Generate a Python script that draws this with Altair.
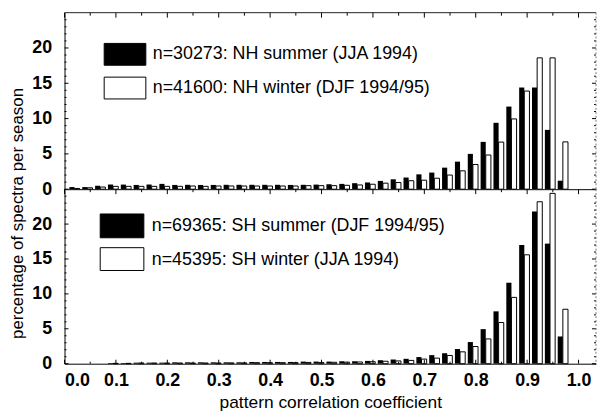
import altair as alt
import pandas as pd

# ---------------- data ----------------
bin_starts = [0.000, 0.025, 0.050, 0.075, 0.100, 0.125, 0.150, 0.175, 0.200, 0.225,
              0.250, 0.275, 0.300, 0.325, 0.350, 0.375, 0.400, 0.425, 0.450, 0.475,
              0.500, 0.525, 0.550, 0.575, 0.600, 0.625, 0.650, 0.675, 0.700, 0.725,
              0.750, 0.775, 0.800, 0.825, 0.850, 0.875, 0.900, 0.925, 0.950, 0.975]

nh_summer = [0.30, 0.30, 0.47, 0.66, 0.65, 0.60, 0.66, 0.75, 0.60, 0.62,
             0.60, 0.60, 0.62, 0.62, 0.62, 0.62, 0.62, 0.60, 0.62, 0.65,
             0.70, 0.75, 0.85, 0.95, 1.17, 1.40, 1.65, 2.10, 2.35, 3.05,
             3.90, 5.00, 6.70, 9.40, 11.70, 14.40, 14.40, 8.40, 1.20, 0.00]
nh_winter = [0.10, 0.20, 0.30, 0.40, 0.40, 0.40, 0.40, 0.40, 0.40, 0.45,
             0.40, 0.45, 0.45, 0.45, 0.45, 0.45, 0.45, 0.45, 0.50, 0.50,
             0.50, 0.55, 0.60, 0.70, 0.85, 0.94, 1.20, 1.27, 1.55, 2.00,
             2.60, 3.50, 4.84, 6.67, 9.95, 13.90, 18.60, 18.60, 6.70, 0.00]

sh_summer = [0.00, 0.00, 0.00, 0.10, 0.10, 0.15, 0.15, 0.15, 0.20, 0.20,
             0.20, 0.20, 0.20, 0.20, 0.25, 0.25, 0.25, 0.25, 0.30, 0.30,
             0.30, 0.35, 0.35, 0.40, 0.50, 0.60, 0.70, 0.95, 1.23, 1.50,
             2.10, 3.10, 4.95, 7.50, 11.60, 17.00, 21.80, 17.20, 3.90, 0.00]
sh_winter = [0.00, 0.00, 0.00, 0.05, 0.05, 0.10, 0.10, 0.10, 0.10, 0.10,
             0.10, 0.10, 0.12, 0.12, 0.15, 0.15, 0.15, 0.15, 0.18, 0.18,
             0.20, 0.22, 0.25, 0.28, 0.35, 0.40, 0.47, 0.66, 0.80, 1.18,
             1.70, 2.46, 3.55, 5.90, 9.50, 15.60, 23.20, 24.40, 7.80, 0.00]

top_labels = ["n=30273: NH summer (JJA 1994)", "n=41600: NH winter (DJF 1994/95)"]
bottom_labels = ["n=69365: SH summer (DJF 1994/95)", "n=45395: SH winter (JJA 1994)"]

x_major = [0.0, 0.1, 0.2, 0.3, 0.4, 0.5, 0.6, 0.7, 0.8, 0.9, 1.0]
x_minor = [0.05, 0.15, 0.25, 0.35, 0.45, 0.55, 0.65, 0.75, 0.85, 0.95]
y_major = [0, 5, 10, 15, 20]
y_minor = [1, 2, 3, 4, 6, 7, 8, 9, 11, 12, 13, 14, 16, 17, 18, 19, 21, 22, 23, 24]

x_title = "pattern correlation coefficient"
y_title = "percentage of spectra per season"

# ---------------- styling ----------------
FONT = "Liberation Sans"
W = 536
H_TOP = 178
H_BOT = 176
LBL = 18
LBLW = "bold"
XS = alt.Scale(domain=[0, 1.034], nice=False, zero=False)
YS = alt.Scale(domain=[0, 25], nice=False, zero=True)
ONE = pd.DataFrame({"a": [0]})


def bar_layers(black_vals, white_vals, xa, ya):
    df = pd.DataFrame({"bin": bin_starts, "black": black_vals, "white": white_vals})
    base = alt.Chart(df)
    blk = base.transform_filter("datum.black > 0").transform_calculate(
        x0="datum.bin + 0.0095", x1="datum.bin + 0.0195"
    ).mark_bar(color="black").encode(
        x=alt.X("x0:Q", scale=XS, axis=xa),
        x2="x1:Q",
        y=alt.Y("black:Q", scale=YS, axis=ya),
        y2=alt.datum(0),
    )
    wht = base.transform_filter("datum.white > 0").transform_calculate(
        x0="datum.bin + 0.0195", x1="datum.bin + 0.0295"
    ).mark_bar(fill="white", stroke="black", strokeWidth=1).encode(
        x=alt.X("x0:Q", scale=XS, axis=xa),
        x2="x1:Q",
        y=alt.Y("white:Q", scale=YS, axis=ya),
        y2=alt.datum(0),
    )
    return [blk, wht]


def y_ticks(vals, length, side, ya):
    x0, x1 = (0, length) if side == "left" else (W - length, W)
    return alt.Chart(pd.DataFrame({"t": vals})).mark_rule(color="black", strokeWidth=1).encode(
        y=alt.Y("t:Q", scale=YS, axis=ya), x=alt.value(x0), x2=alt.value(x1))


def x_ticks(vals, length, side, H, xa):
    y0, y1 = (0, length) if side == "top" else (H - length, H)
    return alt.Chart(pd.DataFrame({"t": vals})).mark_rule(color="black", strokeWidth=1).encode(
        x=alt.X("t:Q", scale=XS, axis=xa), y=alt.value(y0), y2=alt.value(y1))


def frame_layers(H, top_line):
    layers = []
    if top_line:
        layers.append(alt.Chart(ONE).mark_rule(color="#222", strokeWidth=1).encode(
            x=alt.value(0), x2=alt.value(W), y=alt.value(0)))
    layers.append(alt.Chart(ONE).mark_rule(color="#777", strokeWidth=1, strokeDash=[2, 2]).encode(
        x=alt.value(W), y=alt.value(0), y2=alt.value(H)))
    return layers


def legend_layers(labels, rx0, rx1, rows, tx):
    layers = []
    fills = ["black", "white"]
    for i, (ya, yb, yt) in enumerate(rows):
        layers.append(alt.Chart(ONE).mark_rect(fill=fills[i], stroke="black", strokeWidth=1).encode(
            x=alt.value(rx0), x2=alt.value(rx1), y=alt.value(ya), y2=alt.value(yb)))
        layers.append(alt.Chart(pd.DataFrame({"label": [labels[i]]})).mark_text(
            align="left", baseline="middle", font=FONT, fontSize=18, color="black").encode(
            text="label:N", x=alt.value(tx), y=alt.value(yt)))
    return layers


# ---------------- top panel ----------------
top_x_axis = alt.Axis(labels=False, ticks=False, title=None, grid=False, domainColor="black")
top_y_axis = alt.Axis(values=y_major, ticks=False, tickSize=0, labelPadding=13, labelFontSize=LBL,
                      labelFontWeight=LBLW, labelFont=FONT, grid=False, title=y_title,
                      titleFontSize=17, titleFont=FONT,
                      titleFontWeight="normal", titleAngle=270, titleAlign="center",
                      titleBaseline="bottom", titleX=-38, titleY=202, domainColor="black")

top_layers = (
    bar_layers(nh_summer, nh_winter, top_x_axis, top_y_axis)
    + [y_ticks(y_minor, 2, "left", top_y_axis), y_ticks(y_major, 4, "left", top_y_axis),
       y_ticks(y_minor, 2, "right", top_y_axis), y_ticks(y_major, 4, "right", top_y_axis),
       x_ticks(x_minor, 3, "top", H_TOP, top_x_axis), x_ticks(x_major, 5, "top", H_TOP, top_x_axis)]
    + frame_layers(H_TOP, True)
    + legend_layers(top_labels, 40, 82, [(31, 53, 42), (65, 87, 76)], 89)
)
top = alt.layer(*top_layers).properties(width=W, height=H_TOP)

# ---------------- bottom panel ----------------
bot_x_axis = alt.Axis(values=x_major, format=".1f", ticks=False, tickSize=0, labelPadding=8,
                      labelFontSize=LBL, labelFontWeight=LBLW, labelFont=FONT, grid=False,
                      title=x_title, titleFontSize=17.5, titleFont=FONT,
                      titleFontWeight="normal", titlePadding=4, domainColor="black")
bot_y_axis = alt.Axis(values=y_major, ticks=False, tickSize=0, labelPadding=13, labelFontSize=LBL,
                      labelFontWeight=LBLW, labelFont=FONT, grid=False, title=None,
                      domainColor="black")

bot_layers = (
    bar_layers(sh_summer, sh_winter, bot_x_axis, bot_y_axis)
    + [y_ticks(y_minor, 2, "left", bot_y_axis), y_ticks(y_major, 4, "left", bot_y_axis),
       y_ticks(y_minor, 2, "right", bot_y_axis), y_ticks(y_major, 4, "right", bot_y_axis),
       x_ticks(x_minor, 3, "top", H_BOT, bot_x_axis), x_ticks(x_major, 5, "top", H_BOT, bot_x_axis),
       x_ticks(x_minor, 2, "bottom", H_BOT, bot_x_axis), x_ticks(x_major, 4, "bottom", H_BOT, bot_x_axis)]
    + frame_layers(H_BOT, False)
    + legend_layers(bottom_labels, 36, 80, [(25, 49, 37), (59, 82, 71)], 88)
)
bottom = alt.layer(*bot_layers).properties(width=W, height=H_BOT)

chart = alt.vconcat(top, bottom, spacing=0, bounds="flush").properties(
    padding={"left": 0, "top": 2, "right": 0, "bottom": 0}
).configure_view(strokeWidth=0).configure_axis(
    labelColor="black", titleColor="black", domainWidth=1
)

chart.save("out.html", embed_options={"renderer": "svg", "actions": False})
